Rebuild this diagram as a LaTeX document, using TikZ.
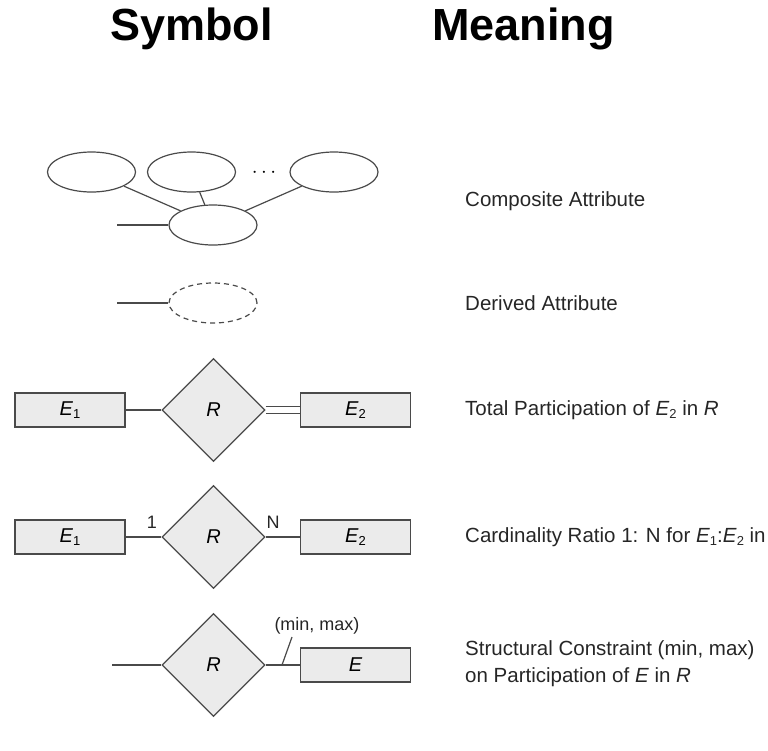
\documentclass[tikz,border=0pt]{standalone}
\usepackage{fontspec}
\setmainfont{Liberation Sans}
\usetikzlibrary{shapes.geometric,backgrounds}
\definecolor{ink}{HTML}{4A4A4A}
\definecolor{boxfill}{HTML}{EBEBEB}
\newcommand{\lowsub}[1]{\raisebox{-0.35ex}{\fontsize{13}{13}\selectfont\upshape #1}}
\tikzset{
  attr/.style={ellipse,draw=ink,line width=1.2pt,minimum width=88pt,minimum height=40pt,inner sep=0pt},
  entbox/.style={rectangle,draw=ink,fill=boxfill,line width=1.2pt,minimum width=110pt,minimum height=34pt,inner sep=0pt,font=\fontsize{20}{20}\selectfont\itshape},
  relbox/.style={diamond,draw=ink,fill=boxfill,line width=1.2pt,minimum width=103pt,minimum height=103pt,aspect=1,inner sep=0pt,font=\fontsize{20}{20}\selectfont\itshape},
  conn/.style={draw=ink,line width=1.2pt},
  meaning/.style={anchor=base west,inner sep=0pt,font=\fontsize{20.5}{27}\selectfont,text=black!85},
  head/.style={anchor=base,inner sep=0pt,font=\fontsize{45}{45}\selectfont\bfseries},
  small/.style={inner sep=0pt,font=\fontsize{18}{18}\selectfont,text=black!85}
}
\begin{document}
\begin{tikzpicture}[x=1pt,y=-1pt]
\useasboundingbox (0,0) rectangle (768,750);
\clip (0,0) rectangle (768,750);
% headers
\node[head] (hsym) at (191.5,40) {Symbol};
\node[head] (hmean) at (523.5,40) {Meaning};

% composite attribute
\node[attr] (a1) at (91.5,172) {};
\node[attr] (a2) at (191.5,172) {};
\node[attr] (a3) at (334,172) {};
\node[inner sep=0pt,font=\fontsize{21}{21}\selectfont] (dots) at (264,173) {$\cdots$};
\node[attr] (am) at (213,225) {};
\coordinate (amfree) at (117,225);
\draw[conn] (a1) -- (am);
\draw[conn] (a2) -- (am);
\draw[conn] (a3) -- (am);
\draw[conn] (amfree) -- (am);
\node[meaning] (t1) at (465,206) {Composite Attribute};

% derived attribute
\node[attr,dashed,dash pattern=on 5pt off 4pt] (ad) at (213,303) {};
\coordinate (adfree) at (117,303);
\draw[conn] (adfree) -- (ad);
\node[meaning] (t2) at (465,310) {Derived Attribute};

% total participation
\node[entbox] (e1a) at (70,410) {E\lowsub{1}};
\node[relbox] (ra) at (213.5,410) {R};
\node[entbox] (e2a) at (355.5,410) {E\lowsub{2}};
\begin{scope}[on background layer]
\draw[conn] (e1a) -- (ra);
\draw[draw=ink,line width=1.2pt,double=white,double distance=6pt] (ra.east) -- (e2a.west);
\end{scope}
\node[meaning] (t3) at (465,415) {Total Participation of \textit{E}\lowsub{2} in \textit{R}};

% cardinality
\node[entbox] (e1b) at (70,537) {E\lowsub{1}};
\node[relbox] (rb) at (213.5,537) {R};
\node[entbox] (e2b) at (355.5,537) {E\lowsub{2}};
\draw[conn] (e1b) -- (rb);
\draw[conn] (rb) -- (e2b);
\node[small] (one) at (152,522) {1};
\node[small] (enn) at (273,522) {N};
\node[meaning] (t4) at (465,542) {Cardinality Ratio 1: N for \textit{E}\lowsub{1}:\textit{E}\lowsub{2} in};

% structural constraint
\node[relbox] (rc) at (213.5,665) {R};
\node[entbox] (ec) at (355.5,665) {E};
\coordinate (rcfree) at (112,665);
\draw[conn] (rcfree) -- (rc);
\draw[conn] (rc) -- (ec);
\node[small] (mm) at (317,626) {(min, max)};
\coordinate (tk1) at (282,665);
\coordinate (tk2) at (292,637);
\draw[conn] (tk1) -- (tk2);
\node[meaning] (t5) at (465,655) {Structural Constraint (min, max)};
\node[meaning] (t6) at (465,682) {on Participation of \textit{E} in \textit{R}};
\end{tikzpicture}
\end{document}
